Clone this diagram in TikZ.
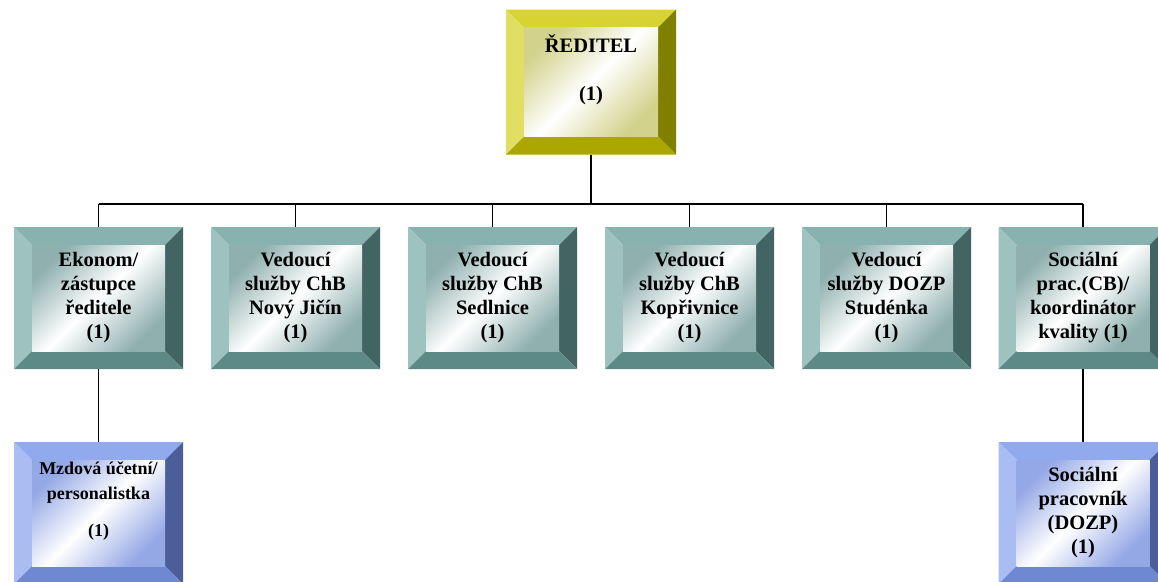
\documentclass[tikz,border=0pt]{standalone}
\usepackage{fontspec}
\setmainfont{Liberation Serif}
\usetikzlibrary{calc}
\definecolor{ylwtop}{HTML}{D6D332}
\definecolor{ylwleft}{HTML}{E1DF63}
\definecolor{ylwright}{HTML}{808000}
\definecolor{ylwbot}{HTML}{ABA600}
\definecolor{ylwtint}{HTML}{D2D28C}
\definecolor{tealtop}{HTML}{88B2AF}
\definecolor{tealleft}{HTML}{9DC2BF}
\definecolor{tealright}{HTML}{426462}
\definecolor{tealbot}{HTML}{5D8986}
\definecolor{tealtint}{HTML}{8FB0AE}
\definecolor{bluetop}{HTML}{91AAEE}
\definecolor{blueleft}{HTML}{A9BDF2}
\definecolor{blueright}{HTML}{4B5E9A}
\definecolor{bluebot}{HTML}{6E88D2}
\definecolor{bluetint}{HTML}{95A8E6}
% bevelled frame: top, left, right, bottom face, tint of the inner face
\newcommand{\bevelframe}[5]{%
  \coordinate (sw) at (path picture bounding box.south west);
  \coordinate (ne) at (path picture bounding box.north east);
  \coordinate (nw) at (path picture bounding box.north west);
  \coordinate (se) at (path picture bounding box.south east);
  \fill[#1] (nw) -- (ne) -- ($(ne)+(-18,-18)$) -- ($(nw)+(18,-18)$) -- cycle;
  \fill[#2] (nw) -- ($(nw)+(18,-18)$) -- ($(sw)+(18,18)$) -- (sw) -- cycle;
  \fill[#3] (ne) -- (se) -- ($(se)+(-18,18)$) -- ($(ne)+(-18,-18)$) -- cycle;
  \fill[#4] (sw) -- (se) -- ($(se)+(-18,18)$) -- ($(sw)+(18,18)$) -- cycle;
  \shade[left color=#5, right color=#5, middle color=white, shading angle=45]
    ($(sw)+(18,18)$) rectangle ($(ne)+(-18,-18)$);
}
\tikzset{
  unit/.style={minimum width=169pt, minimum height=142pt, inner sep=0pt, align=center,
    font=\fontsize{20.5}{24}\selectfont\bfseries},
  boss/.style={unit, minimum width=170pt, minimum height=145pt,
    path picture={\bevelframe{ylwtop}{ylwleft}{ylwright}{ylwbot}{ylwtint}}},
  head/.style={unit, path picture={\bevelframe{tealtop}{tealleft}{tealright}{tealbot}{tealtint}}},
  staff/.style={unit, path picture={\bevelframe{bluetop}{blueleft}{blueright}{bluebot}{bluetint}}},
  wire/.style={line width=1.6pt}
}
\begin{document}
\begin{tikzpicture}[x=1pt,y=1pt]
  \useasboundingbox (0,0) rectangle (1158,-581);
  \node[boss] (dir) at (591,-82) {ŘEDITEL\\[24pt](1)\\[4pt]\mbox{}}; % director

  \node[head] (eko) at (98.5,-298) {Ekonom/\\zástupce\\ředitele\\(1)}; % economist
  \node[head] (nj) at (295.5,-298) {Vedoucí\\služby ChB\\Nový Jičín\\(1)}; % Novy Jicin
  \node[head] (sed) at (492.5,-298) {Vedoucí\\služby ChB\\Sedlnice\\(1)}; % Sedlnice
  \node[head] (kop) at (689.5,-298) {Vedoucí\\služby ChB\\Kopřivnice\\(1)}; % Koprivnice
  \node[head] (stu) at (886.5,-298) {Vedoucí\\služby DOZP\\Studénka\\(1)}; % Studenka
  \node[head] (soc) at (1083,-298) {Sociální\\prac.(CB)/\\koordinátor\\kvality (1)}; % social worker

  \node[staff, font=\fontsize{18}{25}\selectfont\bfseries] (mzd) at (98.5,-513)
    {Mzdová účetní/\\personalistka\\[12pt](1)\\[2pt]\mbox{}}; % payroll
  \node[staff] (dozp) at (1083,-513) {Sociální\\pracovník\\(DOZP)\\(1)}; % social worker DOZP

  \coordinate (bus) at ($(dir.south)+(0,-49)$);
  \draw[wire] (dir.south) -- (bus); % Wiring
  \draw[wire] (eko.north |- bus) -- (soc.north |- bus); % Wiring
  \foreach \n in {eko,nj,sed,kop,stu,soc}
    \draw[wire] (\n.north |- bus) -- (\n.north); % Wiring
  \draw[wire] (eko.south) -- (mzd.north); % Wiring
  \draw[wire] (soc.south) -- (dozp.north); % Wiring
\end{tikzpicture}
\end{document}
